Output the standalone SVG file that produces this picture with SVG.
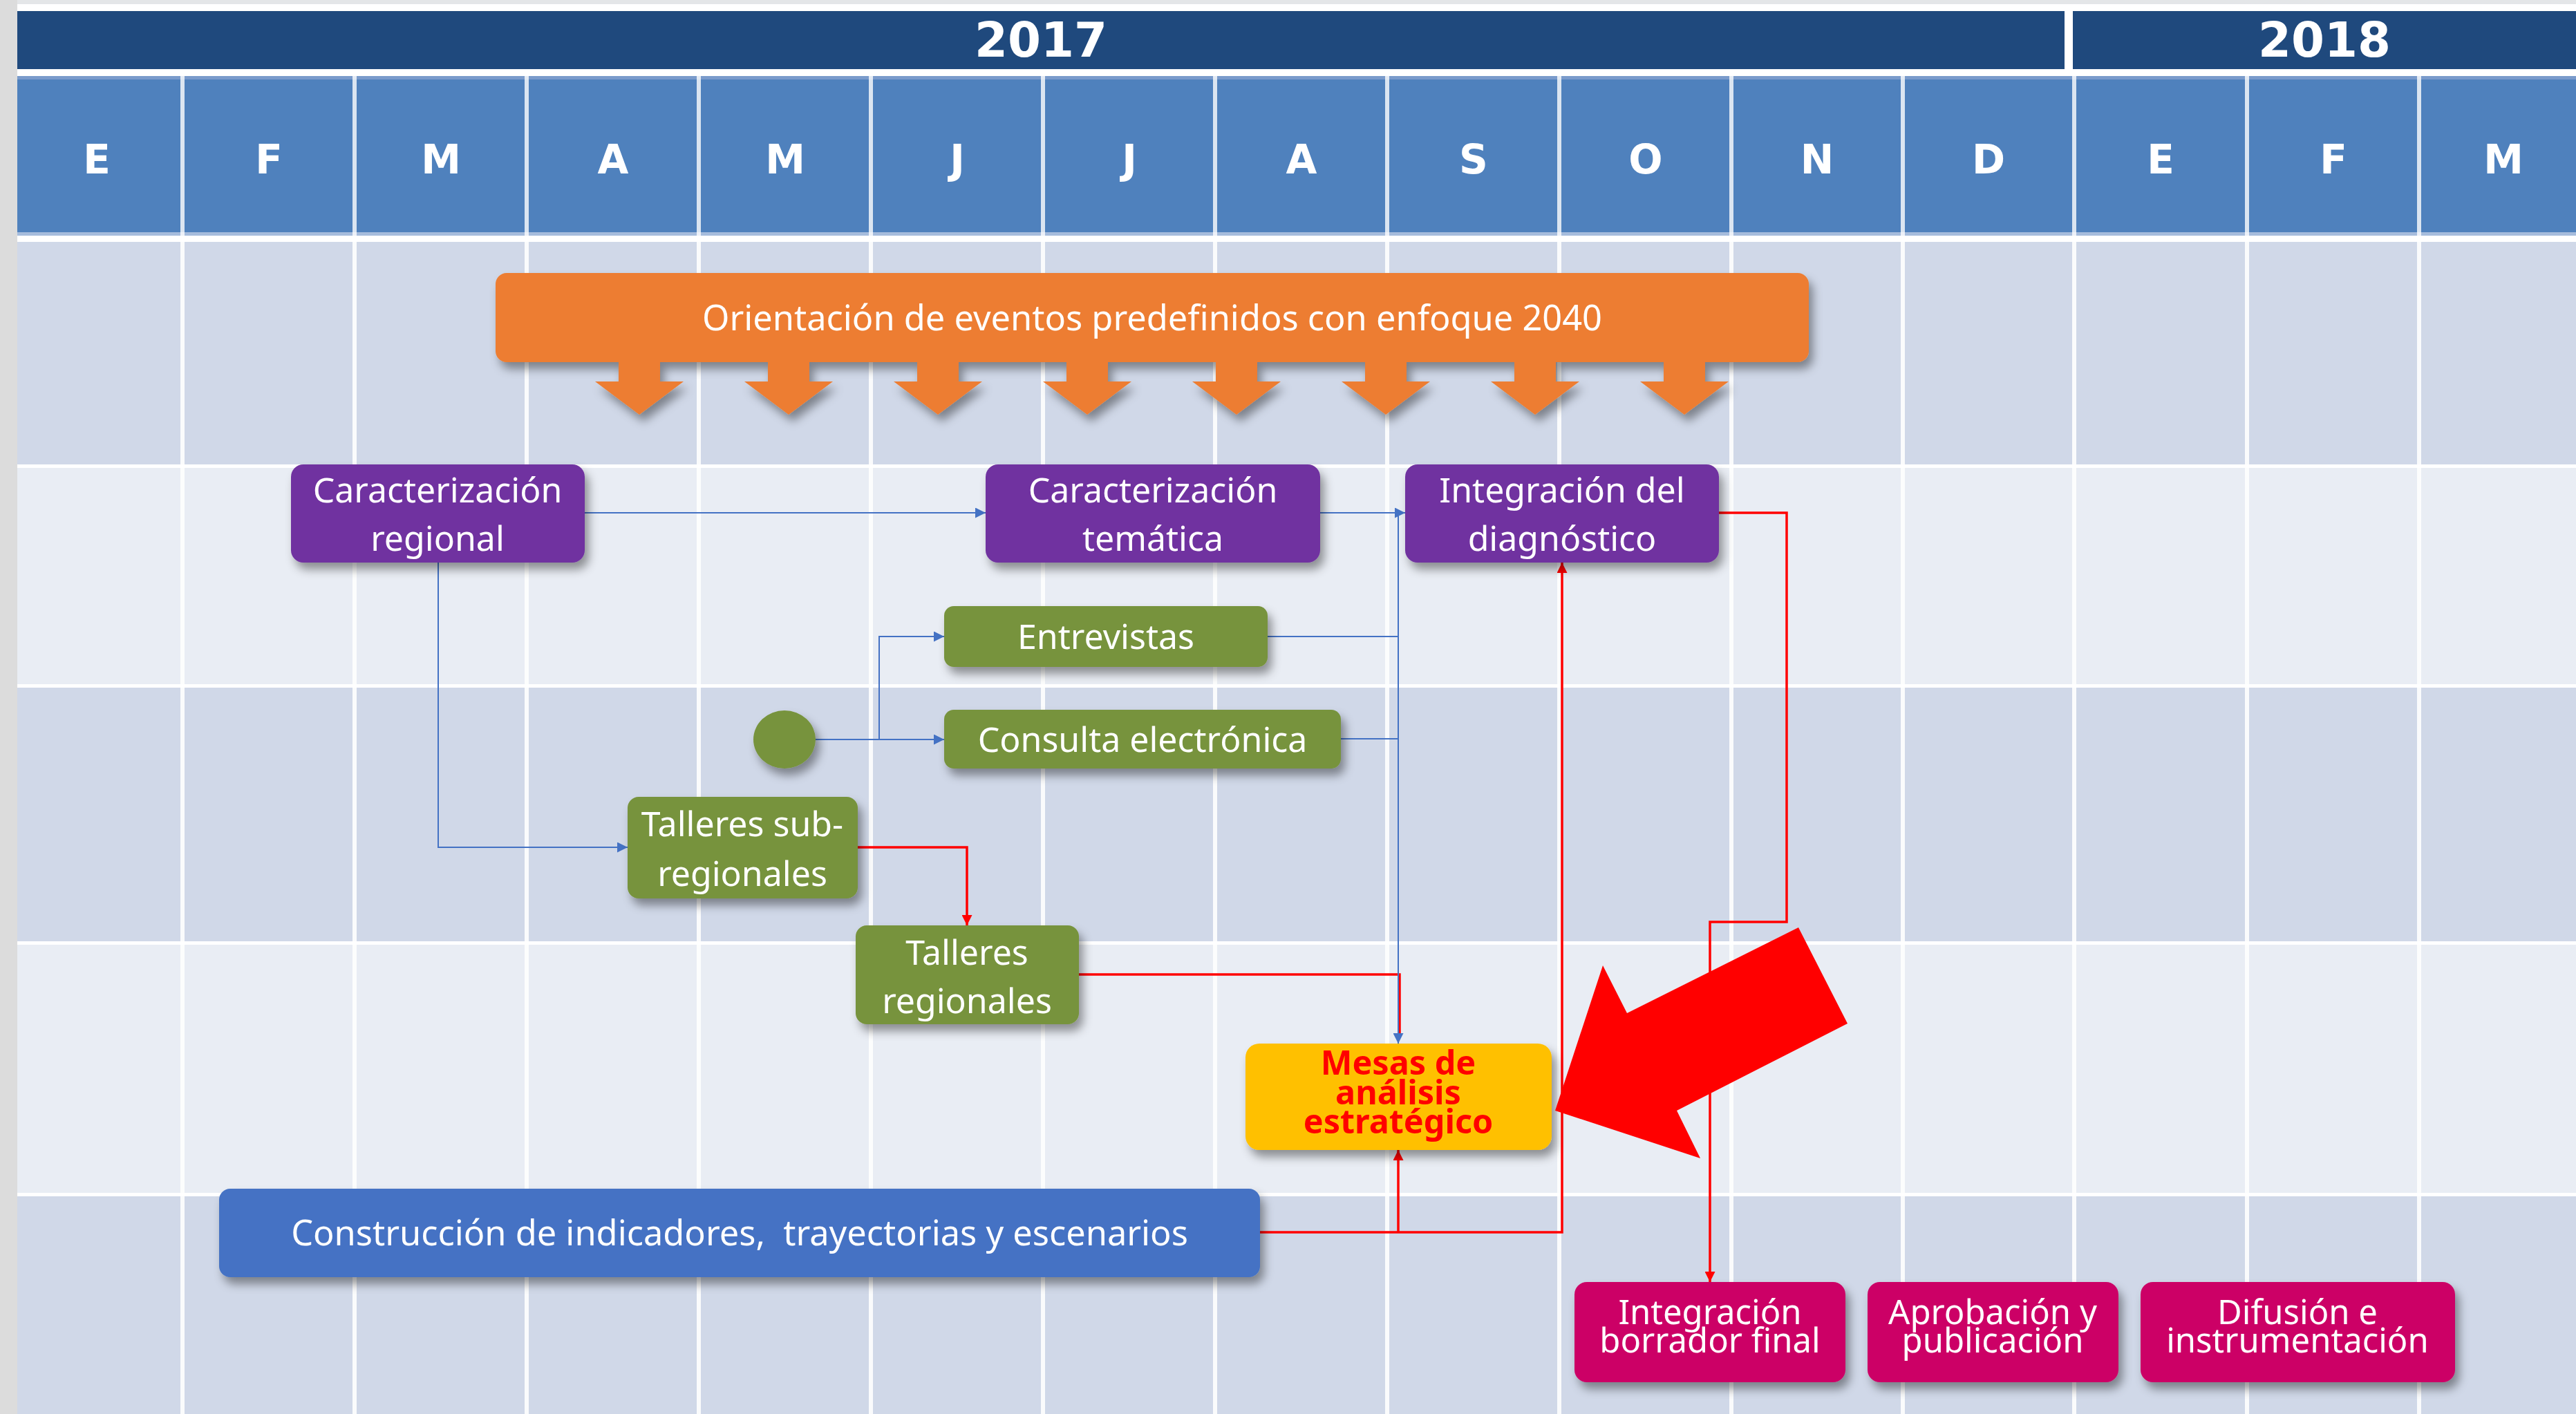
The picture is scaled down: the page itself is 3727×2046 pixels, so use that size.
<svg xmlns="http://www.w3.org/2000/svg" width="3727" height="2046" viewBox="0 0 3727 2046">
<defs>
<style>
.hdr{font-family:"DejaVu Sans","Liberation Sans",sans-serif;font-weight:bold;fill:#fff;text-anchor:middle}
.yr{font-size:69px}
.mo{font-size:58px}
.t{font-family:"Noto Sans","Open Sans",sans-serif;font-size:50px;fill:#fff;text-anchor:middle}
.tw{font-size:50.5px}
.tm{font-family:"Noto Sans","Open Sans",sans-serif;font-size:48.5px;font-weight:bold;fill:#FF0000;text-anchor:middle}
.tp{font-family:"Noto Sans","Open Sans",sans-serif;font-size:49px;fill:#fff;text-anchor:middle}
.purple{fill:#7030A0}
.green{fill:#77933C}
.pink{fill:#CC0066}
.bl{fill:none;stroke:#4472C4;stroke-width:2}
.rl{fill:none;stroke:#FF0000;stroke-width:3.5}
.hdiv{stroke:#fff;stroke-width:6;opacity:0.8}
.vdiv{stroke:#fff;stroke-width:6;opacity:0.9}
.dark{fill:#D0D8E8}
.light{fill:#E9EDF4}
</style>
<filter id="sh" x="-10%" y="-20%" width="130%" height="160%">
<feDropShadow dx="6" dy="10" stdDeviation="7" flood-color="#000" flood-opacity="0.4"/>
</filter>
<marker id="ab" viewBox="0 0 10 10" refX="10" refY="5" markerWidth="15" markerHeight="15" markerUnits="userSpaceOnUse" orient="auto"><path d="M0,0 L10,5 L0,10 z" fill="#4472C4"/></marker>
<marker id="ar" viewBox="0 0 10 10" refX="10" refY="5" markerWidth="15" markerHeight="15" markerUnits="userSpaceOnUse" orient="auto"><path d="M0,0 L10,5 L0,10 z" fill="#FF0000"/></marker>
</defs>

<g id="background">
<rect x="0" y="0" width="3727" height="2046" fill="#fff"/>
<rect x="0" y="0" width="3727" height="6" fill="#E4E6E8"/>
<rect x="0" y="0" width="25" height="2046" fill="#DCDCDC"/>
<rect x="25" y="16" width="2962" height="84" fill="#1F497D"/>
<rect x="2999" y="16" width="728" height="84" fill="#1F497D"/>
<text class="hdr yr" x="1506" y="82">2017</text>
<text class="hdr yr" x="3363" y="82">2018</text>
<rect x="25" y="110" width="3702" height="231" fill="#4F81BD"/>
<rect x="25" y="110" width="3702" height="5" fill="#7A9BCB"/>
<rect x="25" y="336" width="3702" height="5" fill="#A6BCDC"/>
<g class="hdiv">
<line x1="264" y1="110" x2="264" y2="341"/><line x1="513" y1="110" x2="513" y2="341"/><line x1="762" y1="110" x2="762" y2="341"/><line x1="1011" y1="110" x2="1011" y2="341"/><line x1="1260" y1="110" x2="1260" y2="341"/><line x1="1509" y1="110" x2="1509" y2="341"/><line x1="1758" y1="110" x2="1758" y2="341"/><line x1="2007" y1="110" x2="2007" y2="341"/><line x1="2256" y1="110" x2="2256" y2="341"/><line x1="2505" y1="110" x2="2505" y2="341"/><line x1="2753" y1="110" x2="2753" y2="341"/><line x1="3001" y1="110" x2="3001" y2="341"/><line x1="3251" y1="110" x2="3251" y2="341"/><line x1="3500" y1="110" x2="3500" y2="341"/>
</g>
<g class="hdr mo">
<text x="140" y="251">E</text><text x="389" y="251">F</text><text x="638" y="251">M</text><text x="887" y="251">A</text><text x="1136" y="251">M</text><text x="1385" y="251">J</text><text x="1634" y="251">J</text><text x="1883" y="251">A</text><text x="2132" y="251">S</text><text x="2381" y="251">O</text><text x="2629" y="251">N</text><text x="2877" y="251">D</text><text x="3126" y="251">E</text><text x="3376" y="251">F</text><text x="3622" y="251">M</text>
</g>
<rect class="dark" x="25" y="350" width="3702" height="322"/>
<rect class="light" x="25" y="677" width="3702" height="313"/>
<rect class="dark" x="25" y="995" width="3702" height="367"/>
<rect class="light" x="25" y="1367" width="3702" height="359"/>
<rect class="dark" x="25" y="1731" width="3702" height="315"/>
<g class="vdiv">
<line x1="264" y1="350" x2="264" y2="2046"/><line x1="513" y1="350" x2="513" y2="2046"/><line x1="762" y1="350" x2="762" y2="2046"/><line x1="1011" y1="350" x2="1011" y2="2046"/><line x1="1260" y1="350" x2="1260" y2="2046"/><line x1="1509" y1="350" x2="1509" y2="2046"/><line x1="1758" y1="350" x2="1758" y2="2046"/><line x1="2007" y1="350" x2="2007" y2="2046"/><line x1="2256" y1="350" x2="2256" y2="2046"/><line x1="2505" y1="350" x2="2505" y2="2046"/><line x1="2753" y1="350" x2="2753" y2="2046"/><line x1="3001" y1="350" x2="3001" y2="2046"/><line x1="3251" y1="350" x2="3251" y2="2046"/><line x1="3500" y1="350" x2="3500" y2="2046"/>
</g>
</g>

<g id="orientacion" filter="url(#sh)">
<rect x="717" y="395" width="1900" height="129" rx="16" fill="#ED7D31"/>
<g fill="#ED7D31">
<polygon points="895,522 955,522 955,552 989,552 925,600 861,552 895,552"/>
<polygon points="1111,522 1171,522 1171,552 1205,552 1141,600 1077,552 1111,552"/>
<polygon points="1327,522 1387,522 1387,552 1421,552 1357,600 1293,552 1327,552"/>
<polygon points="1543,522 1603,522 1603,552 1637,552 1573,600 1509,552 1543,552"/>
<polygon points="1759,522 1819,522 1819,552 1853,552 1789,600 1725,552 1759,552"/>
<polygon points="1975,522 2035,522 2035,552 2069,552 2005,600 1941,552 1975,552"/>
<polygon points="2191,522 2251,522 2251,552 2285,552 2221,600 2157,552 2191,552"/>
<polygon points="2407,522 2467,522 2467,552 2501,552 2437,600 2373,552 2407,552"/>
</g>
<text class="t tw" x="1667" y="478">Orientación de eventos predefinidos con enfoque 2040</text>
</g>

<g id="connectors">
<path class="bl" d="M846,742 H1426" marker-end="url(#ab)"/>
<path class="bl" d="M1910,742 H2033" marker-end="url(#ab)"/>
<path class="bl" d="M634,814 V1226 H908" marker-end="url(#ab)"/>
<path class="bl" d="M1180,1070 H1366" marker-end="url(#ab)"/>
<path class="bl" d="M1272,1070 V921 H1366" marker-end="url(#ab)"/>
<path class="bl" d="M1834,921 H2023"/>
<path class="bl" d="M1940,1069 H2023"/>
<path class="rl" d="M1241,1226 H1399 V1339" marker-end="url(#ar)"/>
<path class="rl" d="M1561,1410 H2025 V1496"/>
<path class="bl" d="M2023,742 V1510" marker-end="url(#ab)"/>
<path class="rl" d="M1823,1783 H2260 V814" marker-end="url(#ar)"/>
<path class="rl" d="M2023,1783 V1664" marker-end="url(#ar)"/>
<path class="rl" d="M2487,742 H2585 V1334 H2474 V1855" marker-end="url(#ar)"/>
</g>

<g id="caracterizacion-regional" filter="url(#sh)">
<rect class="purple" x="421" y="672" width="425" height="142" rx="18"/>
<text class="t" x="633" y="727">Caracterización</text>
<text class="t" x="633" y="797">regional</text>
</g>
<g id="caracterizacion-tematica" filter="url(#sh)">
<rect class="purple" x="1426" y="672" width="484" height="142" rx="18"/>
<text class="t" x="1668" y="727">Caracterización</text>
<text class="t" x="1668" y="797">temática</text>
</g>
<g id="integracion-diagnostico" filter="url(#sh)">
<rect class="purple" x="2033" y="672" width="454" height="142" rx="18"/>
<text class="t" x="2260" y="727">Integración del</text>
<text class="t" x="2260" y="797">diagnóstico</text>
</g>
<g id="entrevistas" filter="url(#sh)">
<rect class="green" x="1366" y="877" width="468" height="88" rx="14"/>
<text class="t" x="1600" y="939">Entrevistas</text>
</g>
<g id="consulta-electronica" filter="url(#sh)">
<rect class="green" x="1366" y="1027" width="574" height="85" rx="14"/>
<text class="t" x="1653" y="1088">Consulta electrónica</text>
</g>
<g id="inicio" filter="url(#sh)">
<ellipse class="green" cx="1135" cy="1070" rx="45" ry="42"/>
</g>
<g id="talleres-subregionales" filter="url(#sh)">
<rect class="green" x="908" y="1153" width="333" height="147" rx="16"/>
<text class="t" x="1074" y="1210">Talleres sub-</text>
<text class="t" x="1074" y="1282">regionales</text>
</g>
<g id="talleres-regionales" filter="url(#sh)">
<rect class="green" x="1238" y="1339" width="323" height="143" rx="16"/>
<text class="t" x="1399" y="1396">Talleres</text>
<text class="t" x="1399" y="1466">regionales</text>
</g>
<g id="mesas-analisis" filter="url(#sh)">
<rect x="1802" y="1510" width="443" height="154" rx="20" fill="#FFC000"/>
<text class="tm" x="2023" y="1555">Mesas de</text>
<text class="tm" x="2023" y="1598">análisis</text>
<text class="tm" x="2023" y="1640">estratégico</text>
</g>
<g id="construccion" filter="url(#sh)">
<rect x="317" y="1720" width="1506" height="128" rx="16" fill="#4472C4"/>
<text class="t tw" x="1070" y="1802" xml:space="preserve">Construcción de indicadores,  trayectorias y escenarios</text>
</g>
<g id="integracion-borrador" filter="url(#sh)">
<rect class="pink" x="2278" y="1855" width="392" height="145" rx="18"/>
<text class="tp" x="2474" y="1916">Integración</text>
<text class="tp" x="2474" y="1957">borrador final</text>
</g>
<g id="aprobacion" filter="url(#sh)">
<rect class="pink" x="2702" y="1855" width="363" height="145" rx="18"/>
<text class="tp" x="2883" y="1916">Aprobación y</text>
<text class="tp" x="2883" y="1957">publicación</text>
</g>
<g id="difusion" filter="url(#sh)">
<rect class="pink" x="3097" y="1855" width="455" height="145" rx="18"/>
<text class="tp" x="3324" y="1916">Difusión e</text>
<text class="tp" x="3324" y="1957">instrumentación</text>
</g>

<g id="flecha-roja">
<polygon points="2250,1607 2319,1397 2354,1466 2602,1342 2673,1481 2426,1607 2460,1676" fill="#FF0000"/>
</g>
</svg>
